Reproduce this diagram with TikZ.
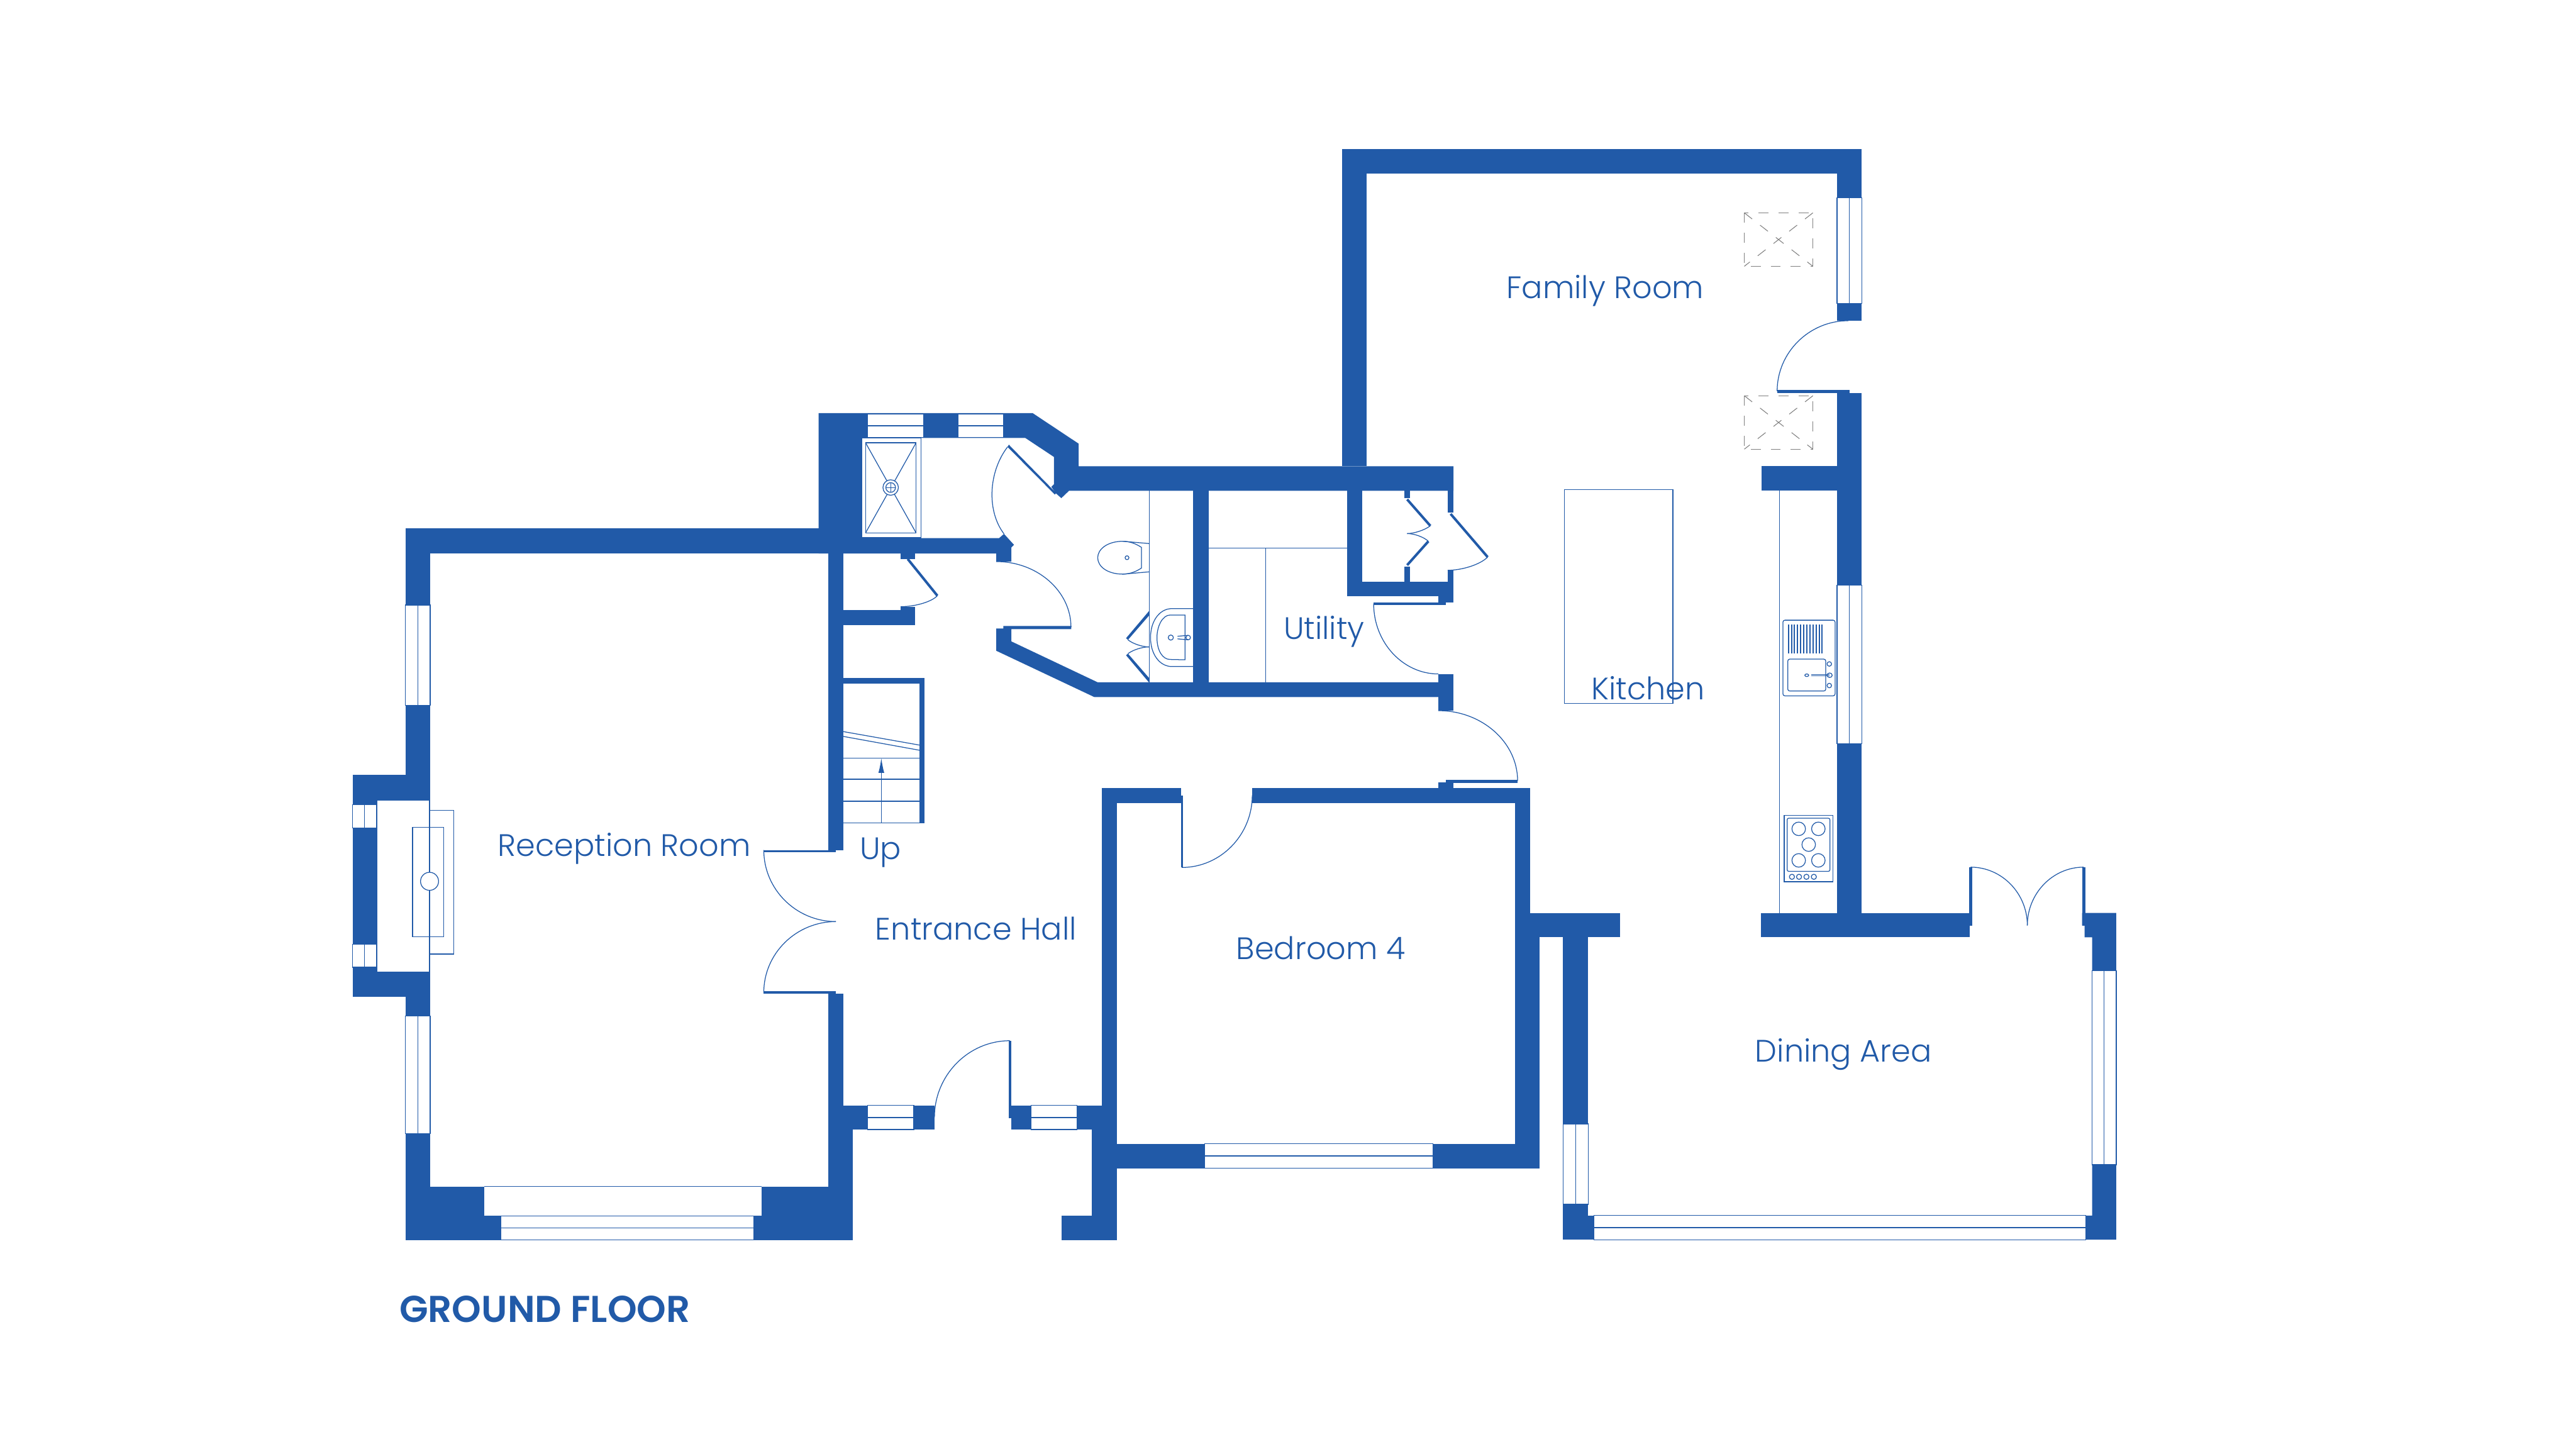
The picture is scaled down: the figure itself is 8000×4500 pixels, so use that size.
\documentclass[tikz,border=0pt]{standalone}
\usepackage{fontspec}
\setmainfont{Poppins}[UprightFont=* Light,BoldFont=* SemiBold]
\usetikzlibrary{calc,arrows.meta}
\definecolor{planblue}{HTML}{215AA8}
\tikzset{
  wall/.style={fill=planblue,draw=none},
  fine/.style={draw=planblue,line width=0.7pt},
  leaf/.style={draw=planblue,line width=2.2pt},
  glass/.style={fine,fill=white},
  roomname/.style={text=planblue,font=\fontsize{27.4}{30}\selectfont,inner sep=0pt,anchor=base},
  skylight/.style={draw=gray,line width=0.6pt,dash pattern=on 0.31cm off 0.31cm}
}
% Arco de puerta: inicio, esquina de tangentes, final
\newcommand{\swing}[3]{\draw[fine] (#1) .. controls ($(#1)!.55!(#2)$) and ($(#3)!.55!(#2)$) .. (#3);}
% Ventanas: con el parteluz vertical o horizontal
\newcommand{\winv}[4]{\draw[glass] (#1,#2) rectangle (#3,#4); \draw[fine] ({(#1+#3)/2},#2) -- ({(#1+#3)/2},#4);}
\newcommand{\winh}[4]{\draw[glass] (#1,#2) rectangle (#3,#4); \draw[fine] (#1,{(#2+#4)/2}) -- (#3,{(#2+#4)/2});}
\begin{document}
\begin{tikzpicture}[x=0.01cm,y=-0.01cm]
\useasboundingbox (0,0) rectangle (8000,4500);
% Muros del salon
\fill[wall] (1259,1641) rectangle (2676,1718);
\fill[wall] (1259,1641) rectangle (1336,2485);
\fill[wall] (1095,2407) rectangle (1336,2485);
\fill[wall] (1095,2407) rectangle (1172,3096);
\fill[wall] (1095,3019) rectangle (1336,3096);
\fill[wall] (1259,3019) rectangle (1336,3851);
\fill[wall] (1259,3685) rectangle (2649,3851);
\fill[wall] (2572,1718) rectangle (2619,2640);
\fill[wall] (2372,2640) rectangle (2596,2647);
\fill[wall] (2372,3079) rectangle (2596,3086);
\fill[wall] (2572,3085) rectangle (2619,3508);
\fill[wall] (2572,3433) rectangle (2649,3851);
\fill[white] (1504,3685) rectangle (2366,3776);
\draw[fine] (1504,3685) -- (2366,3685);
% Muros del recibidor y del dormitorio
\fill[wall] (2619,3433) rectangle (2902,3508);
\fill[wall] (3140,3433) rectangle (3468,3508);
\fill[wall] (3391,3508) rectangle (3468,3852);
\fill[wall] (3297,3775) rectangle (3468,3852);
\fill[wall] (3422,2447) rectangle (3468,3628);
\fill[wall] (3422,2447) rectangle (3667,2494);
\fill[wall] (3889,2447) rectangle (4752,2494);
\fill[wall] (4705,2447) rectangle (4752,2911);
\fill[wall] (4705,2835) rectangle (5031,2911);
\fill[wall] (4705,2911) rectangle (4782,3628);
\fill[wall] (3468,3552) rectangle (4782,3628);
\fill[wall] (4467,2429) rectangle (4513,2447);
\fill[wall] (4490,2422) rectangle (4713,2431);
\fill[wall] (3667,2470) rectangle (3674,2694);
\fill[wall] (3132,3232) rectangle (3140,3472);
% Bloque del aseo, con sus diagonales
\fill[wall] (2542,1283) -- (3207,1283) -- (3350,1378) -- (3350,1448) -- (4514,1448) -- (4514,1524) -- (3320,1524) -- (3296,1547) -- (3279,1532) -- (3265,1512) -- (3273,1504) -- (3273,1419) -- (3184,1360) -- (2676,1360) -- (2676,1671) -- (3103,1671) -- (3118,1658) -- (3149,1692) -- (3141,1700) -- (3141,1744) -- (3094,1744) -- (3094,1719) -- (2542,1719) -- cycle;
\fill[wall] (3133,1381) -- (3280,1531) -- (3276,1536) -- (3129,1388) -- cycle;
\fill[wall] (3141,1992) -- (3409,2119) -- (4513,2119) -- (4513,2165) -- (3399,2165) -- (3094,2021) -- (3094,1952) -- (3116,1952) -- (3116,1944) -- (3327,1944) -- (3327,1954) -- (3141,1954) -- cycle;
\fill[wall] (4467,2093) rectangle (4513,2207);
\fill[wall] (3705,1524) rectangle (3753,2119);
% Armario y puerta de la cocina
\fill[wall] (4184,1524) rectangle (4231,1852);
\fill[wall] (4184,1806) rectangle (4514,1852);
\fill[wall] (4467,1852) rectangle (4514,1872);
\fill[wall] (4496,1771) rectangle (4514,1872);
\fill[wall] (4496,1524) rectangle (4514,1592);
\fill[wall] (4266,1871) rectangle (4491,1879);
\fill[wall] (4362,1524) rectangle (4379,1547);
\fill[wall] (4362,1760) rectangle (4379,1806);
% Armario del recibidor y escalera
\fill[wall] (2619,1895) rectangle (2842,1942);
\fill[wall] (2797,1884) rectangle (2842,1895);
\fill[wall] (2797,1718) rectangle (2842,1736);
\fill[wall] (2619,2106) rectangle (2872,2123);
\fill[wall] (2856,2106) rectangle (2872,2556);
% Cocina, comedor y sala
\fill[wall] (4168,463) rectangle (5782,540);
\fill[wall] (4168,463) rectangle (4245,1448);
\fill[wall] (5705,463) rectangle (5782,996);
\fill[wall] (5519,1211) rectangle (5744,1220);
\fill[wall] (5705,1220) rectangle (5782,2835);
\fill[wall] (5471,1448) rectangle (5705,1524);
\fill[wall] (5468,2835) rectangle (6118,2911);
\fill[wall] (6116,2693) rectangle (6125,2874);
\fill[wall] (6466,2693) rectangle (6476,2874);
\fill[wall] (6466,2835) -- (6572,2835) -- (6572,3850) -- (6478,3850) -- (6478,3775) -- (6497,3775) -- (6497,2911) -- (6474,2911) -- (6474,2874) -- (6466,2874) -- cycle;
\fill[wall] (4854,2911) rectangle (4932,3850);
\fill[wall] (4854,3775) rectangle (4950,3850);
% Ventanas
\winv{1259}{1879}{1336}{2191}
\winv{1259}{3155}{1336}{3520}
\winv{1095}{2499}{1170}{2571}
\winv{1095}{2932}{1170}{3004}
\winh{1556}{3776}{2341}{3851}
\winh{2694}{1285}{2868}{1359}
\winh{2976}{1285}{3116}{1359}
\winh{2695}{3433}{2838}{3508}
\winh{3202}{3433}{3345}{3508}
\winh{3741}{3552}{4450}{3628}
\winv{5705}{614}{5782}{942}
\winv{5705}{1817}{5782}{2309}
\winv{6497}{3014}{6572}{3617}
\winv{4854}{3490}{4932}{3740}
\winh{4950}{3775}{6478}{3850}
% Chimenea
\draw[fine] (1172,2485) -- (1334,2485) -- (1334,3019) -- (1172,3019);
\draw[fine] (1334,2516) rectangle (1409,2963);
\draw[fine] (1281,2569) rectangle (1378,2909);
\draw[fine,fill=white] (1334,2737) circle (28);
% Puertas
\swing{2372,2640}{2372,2862}{2596,2862}
\swing{2596,2862}{2372,2862}{2372,3082}
\swing{3136,3232}{2902,3232}{2902,3470}
\swing{3670,2694}{3889,2694}{3889,2470}
\swing{4713,2425}{4713,2207}{4467,2207}
\swing{3326,1948}{3326,1744}{3094,1744}
\swing{3129,1388}{3020,1530}{3118,1658}
\swing{4266,1875}{4266,2093}{4467,2093}
\swing{5519,1215}{5519,996}{5740,996}
\swing{6120,2693}{6296,2693}{6296,2874}
\swing{6471,2693}{6296,2693}{6296,2874}
\draw[leaf] (2819,1736) -- (2911,1850);
\swing{2911,1850}{2880,1884}{2797,1884}
\draw[leaf] (4370,1551) -- (4442,1633);
\draw[leaf] (4370,1755) -- (4436,1681);
\swing{4442,1633}{4410,1657}{4370,1657}
\swing{4436,1681}{4410,1657}{4370,1657}
\draw[leaf] (4505,1596) -- (4620,1730);
\swing{4620,1730}{4580,1771}{4496,1771}
\fill[wall] (3568,1898) -- (3497,1982) -- (3503,1987) -- (3568,1912) -- cycle;
\fill[wall] (3568,2105) -- (3568,2119) -- (3497,2035) -- (3503,2030) -- cycle;
\swing{3503,1987}{3530,2009}{3568,2009}
\swing{3503,2030}{3530,2009}{3568,2009}
% Ducha
\draw[fine] (2676,1361) rectangle (2861,1670);
\draw[fine] (2688,1375) rectangle (2845,1655);
\draw[fine] (2688,1375) -- (2845,1655) (2845,1375) -- (2688,1655);
\draw[fine,fill=white] (2766,1514) circle (24);
\draw[fine] (2766,1514) circle (15);
\draw[fine] (2751,1514) -- (2781,1514) (2766,1499) -- (2766,1529);
% Inodoro y lavabo
\draw[fine] (3569,1524) -- (3569,2119);
\draw[fine] (3568,1688) -- (3487,1681) .. controls (3440,1681) and (3409,1705) .. (3409,1732) .. controls (3409,1760) and (3440,1783) .. (3487,1783) -- (3568,1776);
\draw[fine] (3487,1681) .. controls (3510,1681) and (3530,1690) .. (3545,1700) -- (3545,1764) .. controls (3530,1774) and (3510,1783) .. (3487,1783);
\draw[fine] (3500,1732) circle (6);
\draw[fine] (3705,1890) -- (3640,1890) .. controls (3600,1890) and (3573,1930) .. (3573,1980) .. controls (3573,2030) and (3600,2070) .. (3640,2070) -- (3705,2070);
\draw[fine] (3680,1910) -- (3634,1910) .. controls (3610,1910) and (3593,1945) .. (3593,1980) .. controls (3593,2020) and (3610,2048) .. (3634,2048) -- (3680,2049) -- cycle;
\draw[fine] (3636,1980) circle (8);
\draw[fine] (3657,1976) -- (3690,1973) (3657,1984) -- (3690,1987);
\draw[fine] (3690,1980) circle (7);
% Lineas del lavadero
\draw[fine] (3753,1702) -- (4184,1702);
\draw[fine] (3931,1702) -- (3931,2119);
% Escalera
\draw[fine] (2619,2272) -- (2856,2314) (2619,2287) -- (2856,2330);
\draw[fine] (2619,2354) -- (2856,2354) (2619,2420) -- (2856,2420) (2619,2488) -- (2856,2488) (2619,2555) -- (2856,2555);
\draw[fine,-{Latex[length=0.46cm,width=0.18cm]}] (2737,2555) -- (2737,2354);
% Encimera, fregadero y placa
\draw[fine] (5527,1524) -- (5527,2835);
\draw[fine] (4859,1521) rectangle (5195,2184);
\draw[fine,rounded corners=0.06cm] (5537,1926) rectangle (5699,2161);
\draw[fine,rounded corners=0.06cm] (5552,2047) rectangle (5670,2146);
\foreach \x in {0,...,11} \fill[wall] ({5552+\x*9.55},1940) rectangle ({5556+\x*9.55},2029);
\draw[fine] (5611,2097) ellipse (6 and 4);
\draw[fine] (5625,2095) -- (5682,2095) (5625,2099) -- (5682,2099);
\draw[fine] (5682,2097) ellipse (8 and 7);
\draw[fine] (5681,2062) circle (7);
\draw[fine] (5681,2129) circle (7);
\draw[fine] (5541,2532) rectangle (5692,2738);
\draw[fine,rounded corners=0.05cm] (5550,2541) rectangle (5683,2706);
\draw[fine] (5586,2574) circle (21) (5647,2574) circle (21) (5617,2623) circle (21) (5586,2672) circle (21) (5647,2672) circle (21);
\draw[fine] (5565,2723) circle (8) (5587,2723) circle (8) (5610,2723) circle (8) (5633,2723) circle (8);
% Lucernarios
\draw[skylight] (5417,661) rectangle (5630,827);
\draw[skylight] (5417,661) -- (5630,827) (5630,661) -- (5417,827);
\draw[skylight] (5417,1229) rectangle (5630,1395);
\draw[skylight] (5417,1229) -- (5630,1395) (5630,1229) -- (5417,1395);
% Nombres
\node[roomname] (family) at (4985,926) {Family Room};
\node[roomname] (reception) at (1939,2659) {Reception Room};
\node[roomname] (utility) at (4112,1986) {Utility};
\node[roomname] (kitchen) at (5118,2172) {Kitchen};
\node[roomname] (hall) at (3031,2919) {Entrance Hall};
\node[roomname] (bedroom) at (4102,2979) {Bedroom 4};
\node[roomname] (dining) at (5725,3297) {Dining Area};
\node[roomname] (up) at (2735,2668) {Up};
\node[roomname,anchor=base west,font=\fontsize{33}{36}\selectfont\bfseries] (floor) at (1240,4106) {GROUND FLOOR};
\end{tikzpicture}
\end{document}
